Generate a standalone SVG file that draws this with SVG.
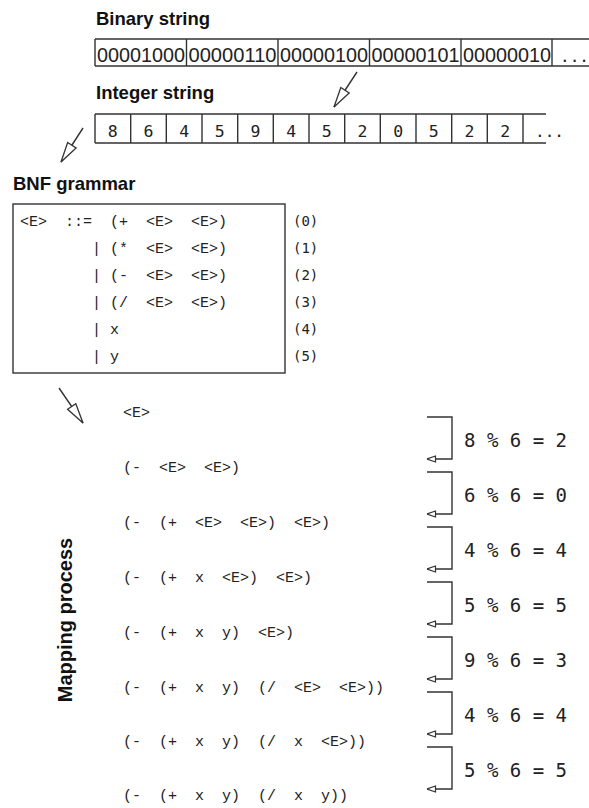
<svg xmlns="http://www.w3.org/2000/svg" width="589" height="808" viewBox="0 0 589 808">
<style>
.lbl{font-family:"Liberation Sans",Arial,sans-serif;font-weight:bold;font-size:18.5px;fill:#111}
.bin{font-family:"Liberation Sans",Arial,sans-serif;font-size:20px;fill:#222}
.dig{font-family:"DejaVu Sans Mono",monospace;font-size:16.5px;fill:#222;text-anchor:middle}
.cm{font-family:"Liberation Mono","Courier New",monospace;font-size:15px;fill:#222;white-space:pre}
.num{font-family:"DejaVu Sans Mono",monospace;font-size:14px;fill:#222}
.mod{font-family:"DejaVu Sans Mono",monospace;font-size:19px;fill:#222;white-space:pre}
.ln{stroke:#333;stroke-width:1.4;fill:none}
</style>
<defs>
<marker id="big" viewBox="0 0 22 12" refX="21" refY="6" markerWidth="22" markerHeight="12" markerUnits="userSpaceOnUse" orient="auto">
<path d="M1,1 L21,6 L1,11 Z" fill="#fff" stroke="#333" stroke-width="1.3"/>
</marker>
<marker id="small" viewBox="0 0 10 8" refX="9.5" refY="4" markerWidth="10" markerHeight="8" markerUnits="userSpaceOnUse" orient="auto">
<path d="M1,1 L9.5,4 L1,7 Z" fill="#fff" stroke="#333" stroke-width="1.2"/>
</marker>
</defs>

<g id="binary-string">
<text class="lbl" x="96" y="25">Binary string</text>
<path class="ln" d="M95,39 H589 M95,66 H589 M95,39 V66 M186.5,39 V66 M278,39 V66 M369.5,39 V66 M461,39 V66 M552,39 V66"/>
<text class="bin" x="97" y="62" textLength="88" lengthAdjust="spacingAndGlyphs">00001000</text>
<text class="bin" x="188.5" y="62" textLength="88" lengthAdjust="spacingAndGlyphs">00000110</text>
<text class="bin" x="280" y="62" textLength="88" lengthAdjust="spacingAndGlyphs">00000100</text>
<text class="bin" x="371.5" y="62" textLength="88" lengthAdjust="spacingAndGlyphs">00000101</text>
<text class="bin" x="463" y="62" textLength="88" lengthAdjust="spacingAndGlyphs">00000010</text>
<text class="mod" x="560" y="62" style="font-size:16px">...</text>
</g>

<g id="integer-string">
<text class="lbl" x="96" y="99">Integer string</text>
<path class="ln" d="M95,114 H546 M95,143 H546 M95,114 V143 M130.7,114 V143 M166.3,114 V143 M202,114 V143 M237.7,114 V143 M273.3,114 V143 M309,114 V143 M344.7,114 V143 M380.3,114 V143 M416,114 V143 M451.7,114 V143 M487.3,114 V143 M523,114 V143"/>
<text class="dig" x="112.8" y="137">8</text>
<text class="dig" x="148.5" y="137">6</text>
<text class="dig" x="184.2" y="137">4</text>
<text class="dig" x="219.8" y="137">5</text>
<text class="dig" x="255.5" y="137">9</text>
<text class="dig" x="291.2" y="137">4</text>
<text class="dig" x="326.8" y="137">5</text>
<text class="dig" x="362.5" y="137">2</text>
<text class="dig" x="398.2" y="137">0</text>
<text class="dig" x="433.8" y="137">5</text>
<text class="dig" x="469.5" y="137">2</text>
<text class="dig" x="505.2" y="137">2</text>
<text class="mod" x="535" y="137" style="font-size:16px">...</text>
</g>

<g id="bnf-grammar">
<text class="lbl" x="13" y="190">BNF grammar</text>
<rect class="ln" x="13" y="204" width="272" height="169"/>
<text class="cm" x="20" y="226" xml:space="preserve">&lt;E&gt;  ::=  (+  &lt;E&gt;  &lt;E&gt;)</text>
<text class="cm" x="20" y="253" xml:space="preserve">        | (*  &lt;E&gt;  &lt;E&gt;)</text>
<text class="cm" x="20" y="280" xml:space="preserve">        | (-  &lt;E&gt;  &lt;E&gt;)</text>
<text class="cm" x="20" y="307" xml:space="preserve">        | (/  &lt;E&gt;  &lt;E&gt;)</text>
<text class="cm" x="20" y="334" xml:space="preserve">        | x</text>
<text class="cm" x="20" y="361" xml:space="preserve">        | y</text>
<text class="num" x="293" y="226">(0)</text>
<text class="num" x="293" y="253">(1)</text>
<text class="num" x="293" y="280">(2)</text>
<text class="num" x="293" y="307">(3)</text>
<text class="num" x="293" y="334">(4)</text>
<text class="num" x="293" y="361">(5)</text>
</g>

<g id="mapping-process">
<text class="lbl" transform="translate(72,620) rotate(-90)" text-anchor="middle" style="font-size:20px">Mapping process</text>
<text class="cm" x="123" y="417" xml:space="preserve">&lt;E&gt;</text>
<text class="cm" x="123" y="472" xml:space="preserve">(-  &lt;E&gt;  &lt;E&gt;)</text>
<text class="cm" x="123" y="527" xml:space="preserve">(-  (+  &lt;E&gt;  &lt;E&gt;)  &lt;E&gt;)</text>
<text class="cm" x="123" y="582" xml:space="preserve">(-  (+  x  &lt;E&gt;)  &lt;E&gt;)</text>
<text class="cm" x="123" y="637" xml:space="preserve">(-  (+  x  y)  &lt;E&gt;)</text>
<text class="cm" x="123" y="692" xml:space="preserve">(-  (+  x  y)  (/  &lt;E&gt;  &lt;E&gt;))</text>
<text class="cm" x="123" y="746" xml:space="preserve">(-  (+  x  y)  (/  x  &lt;E&gt;))</text>
<text class="cm" x="123" y="800" xml:space="preserve">(-  (+  x  y)  (/  x  y))</text>
</g>

<g id="modulo-steps">
<text class="mod" x="464" y="447">8 % 6 = 2</text>
<text class="mod" x="464" y="502">6 % 6 = 0</text>
<text class="mod" x="464" y="557">4 % 6 = 4</text>
<text class="mod" x="464" y="612">5 % 6 = 5</text>
<text class="mod" x="464" y="667">9 % 6 = 3</text>
<text class="mod" x="464" y="722">4 % 6 = 4</text>
<text class="mod" x="464" y="777">5 % 6 = 5</text>
</g>

<g id="connectors">
<line class="ln" x1="357" y1="72" x2="334" y2="107" marker-end="url(#big)"/>
<line class="ln" x1="83" y1="128" x2="61" y2="162" marker-end="url(#big)"/>
<line class="ln" x1="59" y1="388" x2="83" y2="423" marker-end="url(#big)"/>
<path class="ln" d="M427,417 H452 V459 H427" marker-end="url(#small)"/>
<path class="ln" d="M427,472 H452 V514 H427" marker-end="url(#small)"/>
<path class="ln" d="M427,527 H452 V569 H427" marker-end="url(#small)"/>
<path class="ln" d="M427,582 H452 V624 H427" marker-end="url(#small)"/>
<path class="ln" d="M427,637 H452 V679 H427" marker-end="url(#small)"/>
<path class="ln" d="M427,692 H452 V734 H427" marker-end="url(#small)"/>
<path class="ln" d="M427,747 H452 V789 H427" marker-end="url(#small)"/>
</g>
</svg>
